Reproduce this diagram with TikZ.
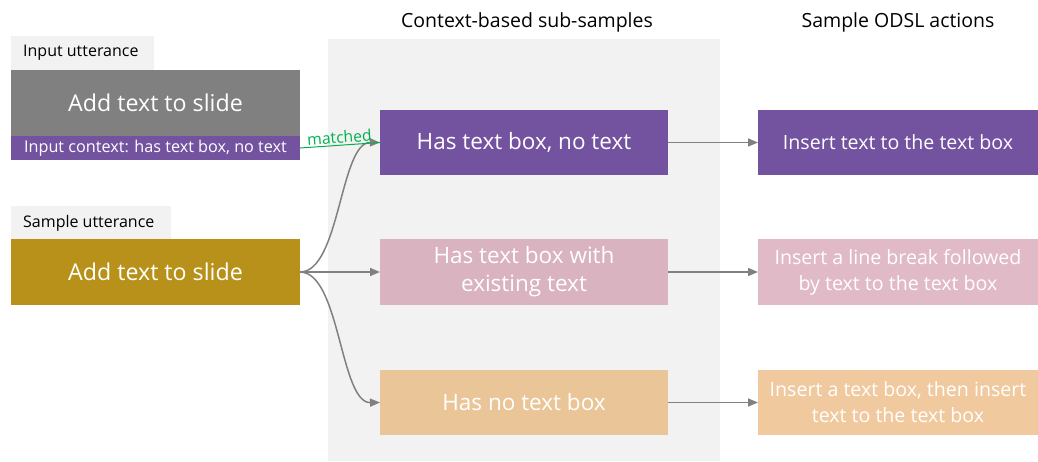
\documentclass[tikz,border=0pt]{standalone}
\usepackage{fontspec}
\setmainfont{Open Sans}
\usetikzlibrary{arrows.meta}
\definecolor{cpurple}{HTML}{7353A0}
\definecolor{cgold}{HTML}{B8911A}
\definecolor{cpinkA}{HTML}{D9B3C0}
\definecolor{cpinkB}{HTML}{E1BAC8}
\definecolor{cpeachA}{HTML}{EAC598}
\definecolor{cpeachB}{HTML}{F0C99E}
\definecolor{cgrayA}{HTML}{808080}
\definecolor{cpanel}{HTML}{F2F2F2}
\definecolor{cgreen}{HTML}{00B050}
\tikzset{
  box/.style={inner sep=0pt, outer sep=0pt, text=white, align=center, anchor=north west},
  lab/.style={fill=cpanel, inner sep=0pt, outer sep=0pt, anchor=north west},
  labtxt/.style={font=\fontsize{16}{18}\selectfont, anchor=west, inner sep=0pt},
  conn/.style={draw=cgrayA, line width=1.5pt, -{Triangle[length=10pt,width=8pt]}},
  ttl/.style={font=\fontsize{19.5}{22}\selectfont},
  mid/.style={font=\fontsize{22.5}{28}\selectfont},
  rgt/.style={font=\fontsize{19.6}{26}\selectfont},
}
\begin{document}
\begin{tikzpicture}[x=1pt,y=-1pt]
\useasboundingbox (0,0) rectangle (1038,461);
% panel
\fill[cpanel] (328,39) rectangle (720,461);
\node[ttl] (t1) at (527,22) {Context-based sub-samples};
\node[ttl] (t2) at (898,22) {Sample ODSL actions};
% left
\node[lab, minimum width=143pt, minimum height=34pt] (il) at (11,36) {};
\node[labtxt] (ilt) at (23,53) {Input utterance};
\node[box, fill=cgrayA, minimum width=289pt, minimum height=66pt, font=\fontsize{23.2}{28}\selectfont] (iu) at (11,70) {Add text to slide};
\node[box, fill=cpurple, minimum width=289pt, minimum height=24pt, font=\fontsize{16.2}{18}\selectfont] (ic) at (11,136) {Input context: has text box, no text};
\node[lab, minimum width=160pt, minimum height=34pt] (sl) at (11,206) {};
\node[labtxt] (slt) at (23,223) {Sample utterance};
\node[box, fill=cgold, minimum width=289pt, minimum height=66pt, font=\fontsize{23.2}{28}\selectfont] (su) at (11,239) {Add text to slide};
% middle
\node[box, mid, fill=cpurple, minimum width=288pt, minimum height=65pt] (m1) at (380,110) {Has text box, no text};
\node[box, mid, fill=cpinkA, minimum width=288pt, minimum height=66pt] (m2) at (380,239) {Has text box with\\existing text};
\node[box, mid, fill=cpeachA, minimum width=288pt, minimum height=65pt] (m3) at (380,370) {Has no text box};
% right
\node[box, rgt, fill=cpurple, minimum width=280pt, minimum height=65pt] (r1) at (758,110) {Insert text to the text box};
\node[box, rgt, fill=cpinkB, minimum width=280pt, minimum height=66pt] (r2) at (758,239) {Insert a line break followed\\by text to the text box};
\node[box, rgt, fill=cpeachB, minimum width=280pt, minimum height=65pt] (r3) at (758,370) {Insert a text box, then insert\\text to the text box};
% connectors
\draw[conn] (su.east) .. controls (340,272) and (340,142) .. (m1.west);
\draw[conn] (su.east) -- (m2.west);
\draw[conn] (su.east) .. controls (340,272) and (340,403) .. (m3.west);
\draw[conn] (m1.east) -- (r1.west);
\draw[conn] (m2.east) -- (r2.west);
\draw[conn] (m3.east) -- (r3.west);
\draw[cgreen, line width=1pt] (ic.east) -- node[above, sloped, inner sep=1.5pt, font=\fontsize{15.7}{17}\selectfont] {matched} (m1.west);
\end{tikzpicture}
\end{document}
